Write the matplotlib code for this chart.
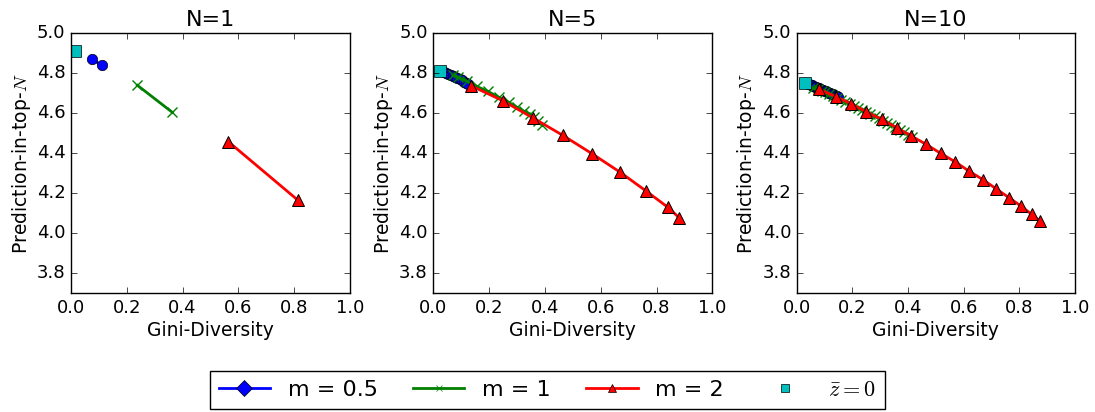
import matplotlib
matplotlib.use("Agg")
import matplotlib.pyplot as plt
from matplotlib.lines import Line2D

plt.style.use('classic')
plt.rcParams['figure.facecolor'] = 'white'
plt.rcParams['savefig.facecolor'] = 'white'
plt.rcParams['legend.numpoints'] = 1
plt.rcParams['mathtext.fontset'] = 'cm'

titles = ["N=1", "N=5", "N=10"]

# N=1
n1_m05_x = [0.076, 0.11]
n1_m05_y = [4.87, 4.84]
n1_m1_x = [0.238, 0.363]
n1_m1_y = [4.74, 4.605]
n1_m2_x = [0.564, 0.812]
n1_m2_y = [4.458, 4.167]
n1_z0_x = [0.015]
n1_z0_y = [4.912]

# N=5
n5_m05_x = [0.03, 0.038, 0.046, 0.054, 0.062, 0.07, 0.078, 0.086, 0.094, 0.102, 0.11, 0.118, 0.125]
n5_m05_y = [4.812, 4.807, 4.802, 4.797, 4.792, 4.787, 4.782, 4.777, 4.771, 4.765, 4.759, 4.753, 4.747]
n5_m1_x = [0.07, 0.09, 0.12, 0.155, 0.195, 0.235, 0.27, 0.30, 0.325, 0.345, 0.36, 0.375, 0.39]
n5_m1_y = [4.79, 4.78, 4.76, 4.735, 4.71, 4.68, 4.655, 4.63, 4.61, 4.595, 4.58, 4.56, 4.54]
n5_m2_x = [0.135, 0.249, 0.356, 0.464, 0.570, 0.670, 0.761, 0.841, 0.881]
n5_m2_y = [4.738, 4.663, 4.578, 4.49, 4.397, 4.305, 4.213, 4.13, 4.078]
n5_z0_x = [0.024]
n5_z0_y = [4.813]

# N=10
n10_m05_x = [0.035, 0.040, 0.045, 0.050, 0.055, 0.060, 0.065, 0.070, 0.075, 0.080, 0.085, 0.090,
             0.095, 0.100, 0.105, 0.110, 0.115, 0.120, 0.125, 0.130, 0.135, 0.140, 0.145, 0.150]
n10_m05_y = [4.750, 4.748, 4.745, 4.742, 4.740, 4.737, 4.734, 4.731, 4.728, 4.725, 4.722, 4.719,
             4.716, 4.713, 4.710, 4.707, 4.704, 4.701, 4.698, 4.695, 4.692, 4.689, 4.686, 4.683]
n10_m1_x = [0.06, 0.075, 0.09, 0.10, 0.115, 0.13, 0.145, 0.16, 0.175, 0.19, 0.205, 0.22, 0.235, 0.25,
            0.265, 0.28, 0.295, 0.31, 0.325, 0.34, 0.355, 0.37, 0.385, 0.40, 0.415]
n10_m1_y = [4.728, 4.720, 4.712, 4.705, 4.697, 4.688, 4.678, 4.668, 4.658, 4.648, 4.638, 4.628, 4.617,
            4.606, 4.596, 4.585, 4.575, 4.564, 4.553, 4.541, 4.530, 4.518, 4.506, 4.494, 4.482]
n10_m2_x = [0.081, 0.140, 0.195, 0.249, 0.305, 0.359, 0.411, 0.465, 0.517, 0.570, 0.620, 0.671,
            0.717, 0.763, 0.807, 0.844, 0.875]
n10_m2_y = [4.72, 4.683, 4.648, 4.608, 4.57, 4.528, 4.487, 4.445, 4.40, 4.357, 4.31, 4.267,
            4.222, 4.178, 4.135, 4.095, 4.06]
n10_z0_x = [0.03]
n10_z0_y = [4.753]

panels = [
    (n1_m05_x, n1_m05_y, n1_m1_x, n1_m1_y, n1_m2_x, n1_m2_y, n1_z0_x, n1_z0_y),
    (n5_m05_x, n5_m05_y, n5_m1_x, n5_m1_y, n5_m2_x, n5_m2_y, n5_z0_x, n5_z0_y),
    (n10_m05_x, n10_m05_y, n10_m1_x, n10_m1_y, n10_m2_x, n10_m2_y, n10_z0_x, n10_z0_y),
]

legend_labels = ["m = 0.5", "m = 1", "m = 2", r"$\bar{z}=0$"]
xticks = [0.0, 0.2, 0.4, 0.6, 0.8, 1.0]
yticks = [3.8, 4.0, 4.2, 4.4, 4.6, 4.8, 5.0]

W, H = 1095, 412
fig = plt.figure(figsize=(W / 100, H / 100), dpi=100)
lefts = [71, 433.3, 796.7]
widths = [279, 279, 278.3]
top, bottom = 33.3, 293.3

for i, (p, t) in enumerate(zip(panels, titles)):
    ax = fig.add_axes([lefts[i] / W, 1 - bottom / H, widths[i] / W, (bottom - top) / H])
    bx, by, gx, gy, rx, ry, zx, zy = p
    ax.plot(bx, by, color='b', marker='o', markersize=7.5, linewidth=2, markeredgecolor='k',
            markeredgewidth=0.5)
    ax.plot(gx, gy, color='g', marker='x', markersize=7, linewidth=2, markeredgewidth=1)
    ax.plot(rx, ry, color='r', marker='^', markersize=8, linewidth=2, markeredgecolor='k',
            markeredgewidth=0.7)
    ax.plot(zx, zy, color='c', marker='s', markersize=8, linestyle='none', markeredgecolor='k',
            markeredgewidth=0.5)
    ax.set_xlim(0, 1)
    ax.set_ylim(3.7, 5.0)
    ax.set_xticks(xticks)
    ax.set_yticks(yticks)
    ax.set_title(t, fontsize=16)
    ax.set_xlabel("Gini-Diversity", fontsize=13.5, labelpad=3)
    ax.set_ylabel(r"Prediction-in-top-$N$", fontsize=13.5, labelpad=3)
    ax.tick_params(labelsize=13)

handles = [
    Line2D([], [], color='b', marker='D', markersize=8, linewidth=2, markeredgecolor='k',
           markeredgewidth=0.5),
    Line2D([], [], color='g', marker='x', markersize=5, linewidth=2),
    Line2D([], [], color='r', marker='^', markersize=6, linewidth=2, markeredgecolor='k',
           markeredgewidth=0.5),
    Line2D([], [], color='c', marker='s', markersize=6, linestyle='none', markeredgecolor='k',
           markeredgewidth=0.5),
]
fig.legend(handles, legend_labels, loc='lower center', bbox_to_anchor=(0.5, 0.0), ncol=4,
           fontsize=16, handlelength=2.3, columnspacing=1.6, borderaxespad=0.15, frameon=True)

fig.savefig("out.png", dpi=100)
